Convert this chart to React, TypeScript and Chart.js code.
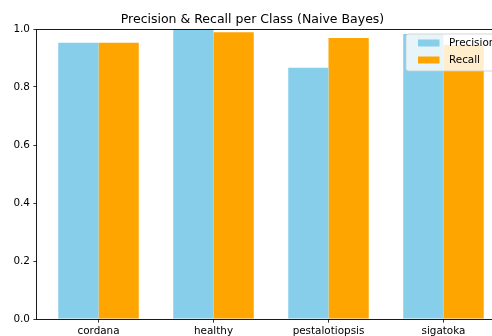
import React, { useEffect, useRef } from "react";
import { Chart, registerables } from "chart.js";

Chart.register(...registerables);

const categories = ["cordana", "healthy", "pestalotiopsis", "sigatoka"];
const precision = [0.953, 1.0, 0.866, 0.983];
const recall = [0.953, 0.989, 0.969, 0.945];
const yTicks = [0, 0.2, 0.4, 0.6, 0.8, 1.0];
const titleText = "Precision & Recall per Class (Naive Bayes)";
const seriesLabels = ["Precision", "Recall"];

const FONT = "'DejaVu Sans', sans-serif";

const spinesPlugin = {
  id: "spines",
  afterDatasetsDraw(chart: any) {
    const { ctx, chartArea } = chart;
    const { left, right, top, bottom } = chartArea;
    ctx.save();
    ctx.strokeStyle = "#000";
    ctx.lineWidth = 0.9;
    ctx.beginPath();
    ctx.moveTo(left - 0.5, top + 0.5);
    ctx.lineTo(right + 0.5, top + 0.5);
    ctx.moveTo(right + 0.5, top + 0.5);
    ctx.lineTo(right + 0.5, bottom + 0.5);
    ctx.moveTo(left - 0.5, top + 0.5);
    ctx.lineTo(left - 0.5, bottom + 0.5);
    ctx.moveTo(left - 0.5, bottom + 0.5);
    ctx.lineTo(right + 0.5, bottom + 0.5);
    ctx.stroke();
    ctx.restore();
  },
};

const legendPlugin = {
  id: "mplLegend",
  afterDraw(chart: any) {
    const { ctx, chartArea } = chart;
    const right = chartArea.right - 5;
    const top = chartArea.top + 5;
    const w = 94;
    const h = 37;
    const left = right - w;
    ctx.save();
    ctx.beginPath();
    const r = 2.5;
    ctx.moveTo(left + r, top);
    ctx.lineTo(left + w - r, top);
    ctx.quadraticCurveTo(left + w, top, left + w, top + r);
    ctx.lineTo(left + w, top + h - r);
    ctx.quadraticCurveTo(left + w, top + h, left + w - r, top + h);
    ctx.lineTo(left + r, top + h);
    ctx.quadraticCurveTo(left, top + h, left, top + h - r);
    ctx.lineTo(left, top + r);
    ctx.quadraticCurveTo(left, top, left + r, top);
    ctx.closePath();
    ctx.fillStyle = "rgba(255,255,255,0.8)";
    ctx.fill();
    ctx.strokeStyle = "rgba(204,204,204,0.8)";
    ctx.lineWidth = 1;
    ctx.stroke();

    ctx.font = `10.4px ${FONT}`;
    ctx.textBaseline = "middle";
    ctx.textAlign = "left";
    chart.data.datasets.forEach((ds: any, i: number) => {
      const cy = top + 9 + i * 17;
      ctx.fillStyle = ds.backgroundColor;
      ctx.fillRect(left + 12, cy - 3.5, 21.5, 7);
      ctx.fillStyle = "#000";
      ctx.fillText(ds.label, left + 43, cy);
    });
    ctx.restore();
  },
};

export default function App() {
  const canvasRef = useRef<HTMLCanvasElement | null>(null);

  useEffect(() => {
    document.body.style.margin = "0";
    document.body.style.overflow = "hidden";
    const canvas = canvasRef.current;
    if (!canvas) return;
    const chart = new Chart(canvas, {
      type: "bar",
      data: {
        datasets: [
          {
            label: seriesLabels[0],
            data: precision.map((v, i) => ({ x: i, y: v })),
            backgroundColor: "#87CEEB",
            borderWidth: 0,
            categoryPercentage: 0.7,
            barPercentage: 1.0,
          },
          {
            label: seriesLabels[1],
            data: recall.map((v, i) => ({ x: i, y: v })),
            backgroundColor: "#FFA500",
            borderWidth: 0,
            categoryPercentage: 0.7,
            barPercentage: 1.0,
          },
        ],
      },
      options: {
        animation: false,
        responsive: false,
        devicePixelRatio: 1,
        events: [],
        layout: { padding: { left: 0, right: 37, top: 0, bottom: 0 } },
        plugins: {
          legend: { display: false },
          tooltip: { enabled: false },
          title: {
            display: true,
            text: titleText,
            color: "#000",
            font: { family: FONT, size: 12.5, weight: "normal" },
            padding: { top: 12, bottom: 2 },
          },
        },
        scales: {
          x: {
            type: "linear",
            min: -0.535,
            max: 3.535,
            offset: false,
            afterBuildTicks: (scale: any) => {
              scale.ticks = categories.map((_, i) => ({ value: i }));
            },
            afterFit: (scale: any) => {
              scale.height = 17;
            },
            ticks: {
              autoSkip: false,
              maxRotation: 0,
              color: "#000",
              padding: 2,
              font: { family: FONT, size: 10.4 },
              callback: (value: any) => categories[Number(value)] ?? "",
            },
            grid: {
              display: true,
              offset: false,
              drawOnChartArea: false,
              drawTicks: true,
              tickLength: 3.6,
              tickColor: "#000",
              lineWidth: 0.8,
            },
            border: { display: false },
          },
          y: {
            type: "linear",
            min: 0,
            max: 1,
            afterBuildTicks: (scale: any) => {
              scale.ticks = yTicks.map((v) => ({ value: v }));
            },
            afterFit: (scale: any) => {
              scale.width = 37;
            },
            ticks: {
              color: "#000",
              padding: 3.5,
              font: { family: FONT, size: 10.4 },
              callback: (value: any) => Number(value).toFixed(1),
            },
            grid: {
              display: true,
              drawOnChartArea: false,
              drawTicks: true,
              tickLength: 3.6,
              tickColor: "#000",
              lineWidth: 0.8,
            },
            border: { display: false },
          },
        },
      },
      plugins: [spinesPlugin, legendPlugin],
    } as any);
    return () => {
      chart.destroy();
    };
  }, []);

  return (
    <div
      style={{
        position: "fixed",
        left: 0,
        top: 0,
        width: 492,
        height: 336,
        overflow: "hidden",
        background: "#fff",
      }}
    >
      <canvas ref={canvasRef} width={542} height={336} style={{ display: "block" }} />
    </div>
  );
}
